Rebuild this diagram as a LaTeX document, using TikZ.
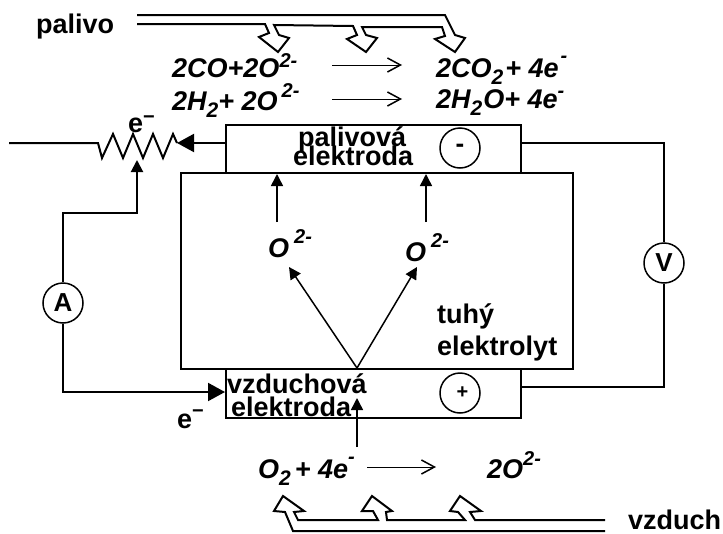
\documentclass[tikz,border=0pt]{standalone}
\usepackage{fontspec}
\setmainfont{Liberation Sans}
\usetikzlibrary{arrows.meta}

\newcommand{\hi}[2][13pt]{\raisebox{#1}{\fontsize{20}{20}\selectfont #2}}
\newcommand{\lo}[1]{\raisebox{-7pt}{\fontsize{21}{21}\selectfont #1}}

\tikzset{
  label/.style={inner sep=0pt,anchor=base west,font=\fontsize{27}{27}\selectfont\bfseries},
  formula/.style={label,font=\fontsize{27}{27}\selectfont\bfseries\itshape},
  box/.style={draw,line width=2pt,minimum width=295,minimum height=48,inner sep=0pt,anchor=north west},
  meter/.style={draw,circle,line width=1.5pt,minimum size=40,inner sep=0pt,font=\fontsize{26}{26}\selectfont\bfseries},
  wire/.style={line width=2pt},
  bigtip/.style={-{Triangle[length=17pt,width=18pt]},wire},
  smalltip/.style={-{Triangle[length=12pt,width=12pt]},line width=1.5pt},
  reaction/.style={-{Straight Barb[length=13pt,width=14pt,line width=1.5pt]},line width=1pt},
  hollow/.style={line width=2pt,line join=miter}
}

\begin{document}
\begin{tikzpicture}[x=1pt,y=-1pt]
  \useasboundingbox (0,0) rectangle (723,533);

  % electrolyte and electrodes
  \node[box,minimum width=392,minimum height=196] (electrolyte) at (180,172) {};
  \node[box] (anode) at (225,124) {};
  \node[box,minimum height=49] (cathode) at (225,368) {};

  % meters
  \node[meter] (minus) at (460,148) {\raisebox{-3pt}{-}};
  \node[meter] (plus) at (460,393) {\raisebox{-3pt}{\hspace{5pt}\fontsize{20}{20}\selectfont +}};
  \node[meter] (voltmeter) at (664,263) {V};
  \node[meter] (ammeter) at (63,303) {A};

  % free ends of the wires
  \coordinate (lead) at (9,143);
  \coordinate (restL) at (98,143);
  \coordinate (restR) at (177,143);
  \coordinate (slider) at (137,160);
  \coordinate (anodeL) at (225,143);
  \coordinate (anodeR) at (520,143);
  \coordinate (cathodeL) at (225,392);
  \coordinate (cathodeR) at (520,387);

  % outer circuit
  \draw[wire] (lead) -- (restL) -- (102,158) -- (113,134) -- (123,158) -- (133,134) -- (143,158)
    -- (153,134) -- (163,158) -- (173,134) -- (restR);
  \draw[bigtip] (anodeL) -- (restR);
  \draw[smalltip,wire] (ammeter.north) |- (137,213) -- (slider);
  \draw[bigtip] (ammeter.south) |- (cathodeL);
  \draw[wire] (anodeR) -| (voltmeter.north);
  \draw[wire] (voltmeter.south) |- (cathodeR);

  % ions
  \coordinate (ionsrc) at (357,368);
  \draw[smalltip] (277,222) -- (277,174);
  \draw[smalltip] (426,222) -- (426,174);
  \draw[smalltip] (ionsrc) -- (289,267);
  \draw[smalltip] (ionsrc) -- (417,267);
  \draw[smalltip] (357,447) -- (357,398);

  % reactions
  \draw[reaction] (332,65) -- (402,65);
  \draw[reaction] (332,99) -- (402,99);
  \draw[reaction] (367,467) -- (436,467);

  % fuel feed
  \draw[hollow] (137,15) -- (445,15) -- (455,35) -- (465,38) -- (455,52) -- (435,39) -- (445,36)
    -- (442,27) -- (362,27) -- (366,35) -- (377,38) -- (366,52) -- (347,39) -- (357,35) -- (353,26)
    -- (274,25) -- (279,35) -- (289,38) -- (278,52) -- (259,37) -- (269,33) -- (265,24) -- (137,24);

  % air feed
  \draw[hollow] (605,531) -- (293,531) -- (285,512) -- (274,511) -- (283,496) -- (304,511) -- (294,512)
    -- (298,520) -- (378,520) -- (373,511) -- (362,511) -- (372,496) -- (392,511) -- (386,512)
    -- (387,520) -- (465,520) -- (458,512) -- (450,511) -- (460,496) -- (481,511) -- (470,512)
    -- (475,520) -- (605,520);

  % labels
  \node[label] (fuel) at (36,33) {palivo};
  \node[label] (air) at (628,529) {vzduch};
  \node[label] (eTop) at (128,132) {e\hi[9pt]{−}};
  \node[label] (eBottom) at (177,428) {e\hi[11pt]{−}};
  \node[label] (anodeA) at (298,146) {palivová};
  \node[label] (anodeB) at (293,165) {elektroda};
  \node[label] (cathodeA) at (227,393) {vzduchová};
  \node[label] (cathodeB) at (231,416) {elektroda};
  \node[label] (solidA) at (437,323) {tuhý};
  \node[label] (solidB) at (437,355) {elektrolyt};

  % formulas
  \node[formula] (fa) at (172,77) {2CO+2O\hi[10pt]{2-}};
  \node[formula] (fb) at (172,110) {2H\lo{2}+ 2O\hspace{4pt}\hi{2-}};
  \node[formula] (fc) at (436,77) {2CO\lo{2}\hspace{2pt}+ 4e\hspace{2pt}\hi[15pt]{-}};
  \node[formula] (fd) at (436,108) {2H\lo{2}\hspace{1pt}O+ 4e\hi[11pt]{-}};
  \node[formula] (ionA) at (268,257) {O\hspace{5pt}\hi[14pt]{2-}};
  \node[formula] (ionB) at (405,261) {O\hspace{5pt}\hi[14pt]{2-}};
  \node[formula] (fe) at (258,478) {O\lo{2}\hspace{4pt}+ 4e\hi[15pt]{-}};
  \node[formula] (ff) at (487,478) {2O\hi{2-}};
\end{tikzpicture}
\end{document}
